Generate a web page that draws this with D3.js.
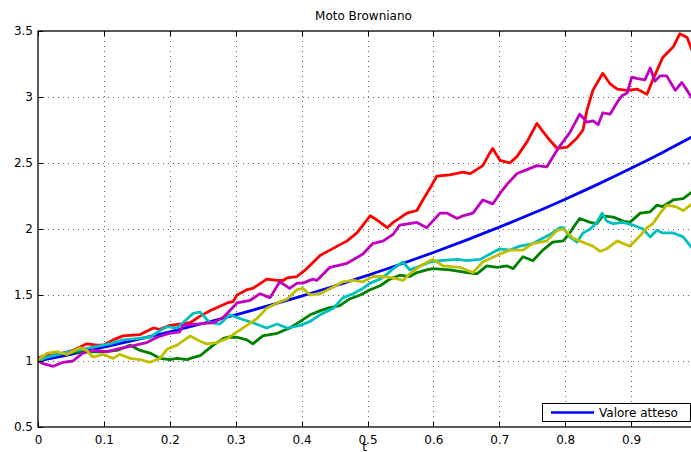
<!DOCTYPE html>
<html>
<head>
<meta charset="utf-8">
<script src="https://cdn.jsdelivr.net/npm/d3@7"></script>
<style>
body { margin: 0; background: #fff; }
svg text { font-family: "DejaVu Sans", sans-serif; font-size: 12px; fill: #000; }
</style>
</head>
<body>
<div id="chart"></div>
<script>
// Tick values and labels
var xTicks = [0, 0.1, 0.2, 0.3, 0.4, 0.5, 0.6, 0.7, 0.8, 0.9, 1];
var xTickLabels = ["0", "0.1", "0.2", "0.3", "0.4", "0.5", "0.6", "0.7", "0.8", "0.9", ""];
var yTicks = [0.5, 1, 1.5, 2, 2.5, 3, 3.5];
var yTickLabels = ["0.5", "1", "1.5", "2", "2.5", "3", "3.5"];
var titleText = "Moto Browniano";
var xLabelText = "t";
var legendText = "Valore atteso";

// Expected value curve, read at 0.05 steps
var expectedPath = [[0,1.00],[0.05,1.05],[0.1,1.105],[0.15,1.162],[0.2,1.221],[0.25,1.284],[0.3,1.35],[0.35,1.419],[0.4,1.492],[0.45,1.568],[0.5,1.649],[0.55,1.733],[0.6,1.822],[0.65,1.916],[0.7,2.014],[0.75,2.117],[0.8,2.226],[0.85,2.34],[0.9,2.46],[0.95,2.586],[1,2.718]];

// Simulated paths [t, value]
var greenPath = [[0,1.00],[0.014,1.03],[0.038,1.06],[0.068,1.07],[0.099,1.07],[0.120,1.08],[0.140,1.12],[0.155,1.08],[0.170,1.06],[0.185,1.02],[0.200,1.01],[0.211,1.02],[0.226,1.01],[0.231,1.02],[0.246,1.04],[0.256,1.08],[0.266,1.12],[0.281,1.17],[0.287,1.18],[0.302,1.18],[0.317,1.16],[0.326,1.13],[0.341,1.19],[0.363,1.21],[0.382,1.25],[0.398,1.30],[0.413,1.35],[0.428,1.38],[0.439,1.40],[0.458,1.42],[0.473,1.47],[0.489,1.50],[0.504,1.54],[0.519,1.57],[0.534,1.62],[0.549,1.65],[0.564,1.64],[0.575,1.67],[0.590,1.69],[0.599,1.70],[0.625,1.69],[0.651,1.67],[0.666,1.66],[0.681,1.72],[0.697,1.71],[0.712,1.72],[0.721,1.70],[0.736,1.79],[0.751,1.76],[0.766,1.84],[0.781,1.90],[0.797,1.91],[0.807,1.97],[0.812,2.01],[0.822,2.08],[0.838,2.05],[0.848,2.04],[0.857,2.10],[0.873,2.09],[0.888,2.06],[0.898,2.05],[0.914,2.12],[0.929,2.13],[0.939,2.18],[0.948,2.17],[0.964,2.22],[0.979,2.23],[0.995,2.29]];
var redPath = [[0,1.00],[0.003,1.03],[0.014,1.04],[0.038,1.06],[0.053,1.08],[0.074,1.13],[0.090,1.12],[0.099,1.12],[0.114,1.16],[0.129,1.19],[0.155,1.20],[0.175,1.25],[0.185,1.24],[0.200,1.27],[0.215,1.28],[0.231,1.29],[0.246,1.34],[0.261,1.38],[0.287,1.44],[0.296,1.45],[0.302,1.50],[0.317,1.54],[0.326,1.55],[0.341,1.60],[0.347,1.62],[0.363,1.61],[0.372,1.61],[0.378,1.63],[0.393,1.64],[0.408,1.70],[0.428,1.80],[0.443,1.84],[0.469,1.91],[0.484,1.97],[0.504,2.10],[0.514,2.07],[0.530,2.01],[0.539,2.05],[0.560,2.12],[0.575,2.14],[0.584,2.22],[0.595,2.31],[0.605,2.40],[0.625,2.41],[0.645,2.43],[0.656,2.42],[0.675,2.48],[0.686,2.58],[0.690,2.61],[0.701,2.52],[0.716,2.50],[0.727,2.55],[0.742,2.66],[0.757,2.80],[0.766,2.74],[0.777,2.67],[0.788,2.61],[0.803,2.62],[0.818,2.69],[0.827,2.75],[0.833,2.90],[0.842,3.05],[0.857,3.18],[0.868,3.10],[0.879,3.06],[0.894,3.05],[0.909,3.06],[0.924,3.02],[0.933,3.13],[0.948,3.30],[0.964,3.38],[0.974,3.48],[0.985,3.45],[0.995,3.32]];
var cyanPath = [[0,1.00],[0.014,1.03],[0.038,1.06],[0.068,1.09],[0.090,1.11],[0.109,1.13],[0.129,1.16],[0.150,1.17],[0.170,1.18],[0.185,1.23],[0.196,1.26],[0.211,1.25],[0.220,1.29],[0.235,1.36],[0.246,1.37],[0.261,1.29],[0.276,1.28],[0.291,1.35],[0.307,1.32],[0.326,1.29],[0.347,1.25],[0.363,1.28],[0.378,1.25],[0.398,1.27],[0.413,1.30],[0.428,1.35],[0.448,1.40],[0.463,1.48],[0.478,1.51],[0.493,1.55],[0.504,1.59],[0.519,1.62],[0.530,1.66],[0.539,1.70],[0.554,1.75],[0.564,1.69],[0.580,1.72],[0.595,1.75],[0.610,1.76],[0.636,1.77],[0.651,1.76],[0.671,1.77],[0.686,1.81],[0.701,1.85],[0.716,1.84],[0.731,1.87],[0.751,1.89],[0.766,1.93],[0.781,1.97],[0.792,2.01],[0.797,2.01],[0.807,1.94],[0.818,1.90],[0.827,1.97],[0.838,2.00],[0.848,2.05],[0.856,2.12],[0.863,2.06],[0.873,2.04],[0.888,2.05],[0.903,2.03],[0.918,2.00],[0.929,1.94],[0.939,1.99],[0.948,1.97],[0.964,1.97],[0.979,1.94],[0.995,1.84]];
var magentaPath = [[0,1.00],[0.008,0.98],[0.023,0.96],[0.038,0.99],[0.053,1.00],[0.068,1.06],[0.083,1.08],[0.105,1.07],[0.120,1.09],[0.140,1.11],[0.165,1.14],[0.181,1.18],[0.200,1.21],[0.215,1.22],[0.220,1.27],[0.241,1.28],[0.266,1.29],[0.281,1.33],[0.302,1.44],[0.322,1.46],[0.337,1.51],[0.352,1.48],[0.367,1.60],[0.382,1.55],[0.393,1.59],[0.402,1.59],[0.417,1.62],[0.423,1.61],[0.443,1.71],[0.469,1.74],[0.493,1.81],[0.508,1.89],[0.524,1.91],[0.539,1.96],[0.549,2.03],[0.575,2.05],[0.590,2.01],[0.610,2.12],[0.621,2.12],[0.636,2.08],[0.645,2.10],[0.660,2.12],[0.675,2.22],[0.690,2.19],[0.701,2.27],[0.712,2.34],[0.727,2.42],[0.742,2.45],[0.757,2.48],[0.772,2.47],[0.788,2.60],[0.792,2.63],[0.807,2.73],[0.822,2.87],[0.833,2.81],[0.842,2.82],[0.850,2.79],[0.857,2.88],[0.868,2.87],[0.879,2.96],[0.886,3.01],[0.894,3.03],[0.901,3.15],[0.910,3.14],[0.921,3.13],[0.929,3.22],[0.936,3.12],[0.944,3.16],[0.954,3.16],[0.967,3.05],[0.977,3.11],[0.985,3.05],[0.995,2.97]];
var yellowPath = [[0,1.00],[0.003,1.02],[0.014,1.06],[0.029,1.07],[0.044,1.05],[0.064,1.10],[0.074,1.08],[0.083,1.03],[0.099,1.05],[0.114,1.02],[0.124,1.05],[0.140,1.02],[0.155,1.01],[0.170,0.99],[0.185,1.02],[0.196,1.09],[0.211,1.12],[0.231,1.19],[0.246,1.15],[0.256,1.13],[0.272,1.14],[0.287,1.17],[0.302,1.22],[0.317,1.27],[0.332,1.32],[0.347,1.40],[0.363,1.44],[0.378,1.47],[0.393,1.54],[0.402,1.55],[0.413,1.50],[0.428,1.51],[0.448,1.56],[0.463,1.60],[0.478,1.61],[0.493,1.60],[0.508,1.64],[0.524,1.64],[0.539,1.63],[0.554,1.61],[0.564,1.66],[0.580,1.72],[0.599,1.77],[0.615,1.72],[0.640,1.71],[0.660,1.67],[0.675,1.75],[0.701,1.81],[0.716,1.84],[0.736,1.84],[0.751,1.89],[0.772,1.91],[0.788,1.99],[0.797,2.00],[0.812,1.93],[0.827,1.90],[0.842,1.87],[0.853,1.83],[0.863,1.85],[0.879,1.91],[0.888,1.89],[0.898,1.87],[0.914,1.95],[0.924,2.01],[0.933,2.04],[0.944,2.12],[0.954,2.18],[0.967,2.17],[0.979,2.14],[0.995,2.20]];

var pathColors = ["#0000ff", "#008000", "#ff0000", "#00bfbf", "#bf00bf", "#bfbf00"];

var width = 691, height = 452;
var plotLeft = 38, plotRight = 697, plotTop = 31, plotBottom = 427;

var svg = d3.select("#chart")
    .append("svg")
    .attr("width", width)
    .attr("height", height);

var x = d3.scaleLinear().domain([0, 1]).range([plotLeft, plotRight]);
var y = d3.scaleLinear().domain([0.5, 3.5]).range([plotBottom, plotTop]);

// Dotted grid
var grid = svg.append("g").attr("class", "grid");
grid.selectAll(".vgrid")
    .data(xTicks.slice(1, -1))
    .enter().append("line")
    .attr("x1", function(d) { return Math.round(x(d)) + 0.5; })
    .attr("x2", function(d) { return Math.round(x(d)) + 0.5; })
    .attr("y1", plotTop).attr("y2", plotBottom)
    .attr("stroke", "#666").attr("stroke-width", 1)
    .attr("stroke-dasharray", "1,4");
grid.selectAll(".hgrid")
    .data(yTicks.slice(1, -1))
    .enter().append("line")
    .attr("y1", function(d) { return Math.round(y(d)) + 0.5; })
    .attr("y2", function(d) { return Math.round(y(d)) + 0.5; })
    .attr("x1", plotLeft).attr("x2", plotRight)
    .attr("stroke", "#666").attr("stroke-width", 1)
    .attr("stroke-dasharray", "1,4");

// Clip lines to the axes box
svg.append("clipPath").attr("id", "plotClip")
    .append("rect")
    .attr("x", plotLeft).attr("y", plotTop)
    .attr("width", plotRight - plotLeft).attr("height", plotBottom - plotTop);

var line = d3.line()
    .x(function(d) { return x(d[0]); })
    .y(function(d) { return y(d[1]); });

var series = [expectedPath, greenPath, redPath, cyanPath, magentaPath, yellowPath];
svg.append("g")
    .attr("clip-path", "url(#plotClip)")
    .selectAll("path")
    .data(series)
    .enter().append("path")
    .attr("d", function(d, i) { return i == 0 ? line.curve(d3.curveMonotoneX)(d) : line.curve(d3.curveLinear)(d); })
    .attr("fill", "none")
    .attr("stroke", function(d, i) { return pathColors[i]; })
    .attr("stroke-width", 2.8)
    .attr("stroke-linejoin", "round");

// Axes, MATLAB style with inward ticks on all four sides
var axisBottom = d3.axisBottom(x).tickValues(xTicks).tickSize(0).tickPadding(8)
    .tickFormat(function(d, i) { return xTickLabels[i]; });
var axisLeft = d3.axisLeft(y).tickValues(yTicks).tickSize(0).tickPadding(5)
    .tickFormat(function(d, i) { return yTickLabels[i]; });
svg.append("g").attr("transform", "translate(0," + plotBottom + ")").call(axisBottom);
svg.append("g").attr("transform", "translate(" + plotLeft + ",0)").call(axisLeft);
svg.selectAll(".domain").remove();
svg.selectAll(".tick text").style("font-family", "'DejaVu Sans', sans-serif").style("font-size", "12px").attr("fill", "#000");

var ticks = svg.append("g").attr("stroke", "#000").attr("stroke-width", 1);
xTicks.forEach(function(t) {
    var px = Math.round(x(t)) + 0.5;
    ticks.append("line").attr("x1", px).attr("x2", px).attr("y1", plotBottom).attr("y2", plotBottom - 5);
    ticks.append("line").attr("x1", px).attr("x2", px).attr("y1", plotTop).attr("y2", plotTop + 5);
});
yTicks.forEach(function(v) {
    var py = Math.round(y(v)) + 0.5;
    ticks.append("line").attr("y1", py).attr("y2", py).attr("x1", plotLeft).attr("x2", plotLeft + 5);
    ticks.append("line").attr("y1", py).attr("y2", py).attr("x1", plotRight).attr("x2", plotRight - 5);
});

svg.append("rect")
    .attr("x", plotLeft).attr("y", plotTop)
    .attr("width", plotRight - plotLeft).attr("height", plotBottom - plotTop)
    .attr("fill", "none").attr("stroke", "#000").attr("stroke-width", 1.3);

// Title and x label
svg.append("text").attr("x", (plotLeft + plotRight) / 2 - 4).attr("y", 20)
    .attr("text-anchor", "middle").text(titleText);
svg.append("text").attr("x", (plotLeft + plotRight) / 2 - 3).attr("y", 451)
    .attr("text-anchor", "middle").text(xLabelText);

// Legend, bottom right inside the axes
var legend = svg.append("g").attr("transform", "translate(542,403)");
legend.append("rect").attr("x", 0.5).attr("y", 0.5).attr("width", 148).attr("height", 18)
    .attr("fill", "#fff").attr("stroke", "#000").attr("stroke-width", 1);
legend.append("line").attr("x1", 9).attr("x2", 52).attr("y1", 9.5).attr("y2", 9.5)
    .attr("stroke", pathColors[0]).attr("stroke-width", 2.6);
legend.append("text").attr("x", 57).attr("y", 14).text(legendText);
</script>
</body>
</html>
